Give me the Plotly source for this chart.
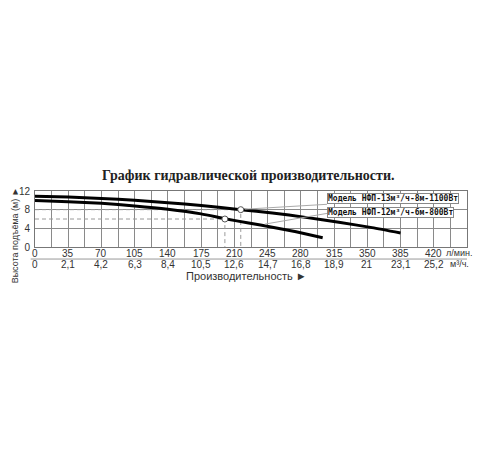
import plotly.graph_objects as go

# ---------- data ----------
flow_ticks = [0, 35, 70, 105, 140, 175, 210, 245, 280, 315, 350, 385, 420]
flow_m3h_labels = ['0', '2,1', '4,2', '6,3', '8,4', '10,5', '12,6', '14,7',
                   '16,8', '18,9', '21', '23,1', '25,2']
head_ticks = [0, 4, 8, 12]

# НФП-13 (1100 Вт)
q_1100 = [0, 35, 70, 105, 140, 175, 216.7, 250, 285, 320, 355, 385]
h_1100 = [10.9, 10.7, 10.4, 10.0, 9.5, 8.9, 8.0, 7.3, 6.35, 5.3, 4.15, 3.0]

# НФП-12 (800 Вт)
q_800 = [0, 35, 70, 105, 140, 175, 200, 225, 250, 275, 303]
h_800 = [9.95, 9.7, 9.35, 8.8, 8.1, 7.1, 6.05, 5.15, 4.25, 3.25, 2.0]

# rated points (13 m3/h @ 8 m, 12 m3/h @ 6 m)
rated_q = [216.7, 200]
rated_h = [8, 6]

labels = ['Модель НФП-13м³/ч-8м-1100Вт', 'Модель НФП-12м³/ч-6м-800Вт']

# ---------- figure ----------
TXT = '#333333'
GRID = '#8a8a8a'
DASH = '#9a9a9a'
SANS = 'Liberation Sans'

fig = go.Figure()

# dashed guide lines to the rated points
for q, h in zip(rated_q, rated_h):
    fig.add_trace(go.Scatter(
        x=[0, q, q], y=[h, h, 0], mode='lines',
        line=dict(color=DASH, width=1, dash='4px,3px'),
        hoverinfo='skip', showlegend=False))

fig.add_trace(go.Scatter(x=q_1100, y=h_1100, mode='lines',
                         line=dict(color='black', width=3, shape='spline', smoothing=0.6),
                         name=labels[0], showlegend=False))
fig.add_trace(go.Scatter(x=q_800, y=h_800, mode='lines',
                         line=dict(color='black', width=3, shape='spline', smoothing=0.6),
                         name=labels[1], showlegend=False))

fig.add_trace(go.Scatter(x=rated_q, y=rated_h, mode='markers',
                         marker=dict(size=6, color='white', line=dict(color='#555', width=1)),
                         showlegend=False, cliponaxis=False))

# pointer lines from the label boxes to the curves
pointers = [((221, 8.1), (307.5, 9.15)), ((242, 4.9), (307.5, 7.2))]
for (x0, y0), (x1, y1) in pointers:
    fig.add_shape(type='line', xref='x', yref='y', x0=x0, y0=y0, x1=x1, y1=y1,
                  line=dict(color='#aaaaaa', width=1))

# label boxes
for lab, yy in zip(labels, [10.43, 7.33]):
    fig.add_annotation(text='<b>' + lab + '</b>', xref='x', yref='y', x=307.5, y=yy,
                       xanchor='left', yanchor='middle', showarrow=False,
                       font=dict(family='DejaVu Sans Mono', size=8, color='#111'),
                       bgcolor='white', bordercolor='#888', borderwidth=1, borderpad=0)

# two rows of x labels: l/min and m3/h
for q, lab in zip(flow_ticks, flow_m3h_labels):
    fig.add_annotation(text=str(q), xref='x', yref='paper', x=q, y=-0.115,
                       xanchor='center', yanchor='middle', showarrow=False,
                       font=dict(family=SANS, size=10, color=TXT))
    fig.add_annotation(text=lab, xref='x', yref='paper', x=q, y=-0.31,
                       xanchor='center', yanchor='middle', showarrow=False,
                       font=dict(family=SANS, size=10, color=TXT))

# separator between the two rows of x labels
fig.add_shape(type='line', xref='paper', yref='paper', x0=-0.01, x1=1, y0=-0.215, y1=-0.215,
              line=dict(color='#999999', width=1))

# title and axis captions
fig.add_annotation(text='<b>График гидравлической производительности.</b>',
                   xref='paper', yref='paper', x=0.495, y=1.28,
                   xanchor='center', yanchor='middle', showarrow=False,
                   font=dict(family='Liberation Serif', size=14, color='#222'))
fig.add_annotation(text='Высота подъёма (м) ►', textangle=-90,
                   xref='paper', yref='paper', x=-0.046, y=0.21,
                   xanchor='center', yanchor='middle', showarrow=False,
                   font=dict(family=SANS, size=9, color=TXT))
fig.add_annotation(text='Производительность ►',
                   xref='paper', yref='paper', x=0.49, y=-0.52,
                   xanchor='center', yanchor='middle', showarrow=False,
                   font=dict(family=SANS, size=11, color=TXT))
fig.add_annotation(text='л/мин.', xref='paper', yref='paper', x=0.947, y=-0.115,
                   xanchor='left', yanchor='middle', showarrow=False,
                   font=dict(family=SANS, size=9, color=TXT))
fig.add_annotation(text='м³/ч.', xref='paper', yref='paper', x=0.955, y=-0.31,
                   xanchor='left', yanchor='middle', showarrow=False,
                   font=dict(family=SANS, size=9, color=TXT))

# page body has an 8px margin, so the figure is 8px smaller than the window
fig.update_layout(
    width=492, height=442,
    margin=dict(l=27, r=33, t=183, b=203),
    paper_bgcolor='white', plot_bgcolor='white',
    font=dict(family=SANS, color=TXT),
    xaxis=dict(
        range=[0, 455], tickmode='array', tickvals=flow_ticks,
        showticklabels=False, ticks='',
        showgrid=True, gridcolor=GRID, gridwidth=1,
        minor=dict(dtick=17.5, tick0=0, showgrid=True, gridcolor=GRID, gridwidth=1),
        showline=True, mirror=True, linecolor='#777', linewidth=1,
        zeroline=False, fixedrange=True),
    yaxis=dict(
        range=[0, 12], tickmode='array', tickvals=head_ticks,
        tickfont=dict(size=10, color=TXT), ticks='', ticklabelstandoff=2,
        showgrid=True, gridcolor=GRID, gridwidth=1,
        showline=True, mirror=True, linecolor='#777', linewidth=1,
        zeroline=False, fixedrange=True),
)

fig.write_html('out.html')
